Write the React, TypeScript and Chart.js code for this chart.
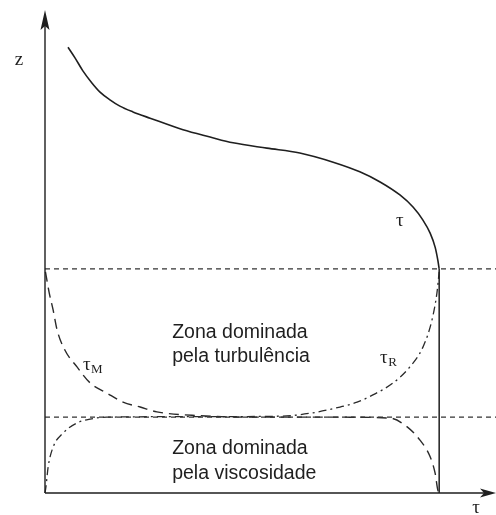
import { useEffect, useRef } from "react";
import { Chart, registerables } from "chart.js";

Chart.register(...registerables);

// Axis extents (τ horizontally, z vertically), in arbitrary units
const X_MAX = 100;
const Z_MAX = 100;
// Wall stress and the two layer boundaries
const TAU_WALL = 87.4;
const Z_VISC = 15.7;
const Z_TURB = 46.4;

// Total stress τ(z) above the turbulent zone
const tauX = [5.1, 6.65, 8.4, 10.4, 12.2, 14.4, 16.6, 19.5, 23.3, 30.6, 36.6, 41.7, 49.2, 56.5, 63.9, 69.8, 74.3, 78.7, 81.6, 83.8, 85.4, 86.5, 87.1, 87.4];
const tauZ = [92.3, 90.1, 87.4, 84.9, 83.0, 81.4, 80.1, 78.9, 77.6, 75.2, 73.7, 72.5, 71.4, 70.4, 68.5, 66.5, 64.4, 61.7, 59.2, 56.5, 53.8, 50.9, 48.2, 46.4];

// Viscous (molecular) stress τ_M
const tauMX = [0.1, 0.9, 1.8, 2.7, 4.4, 7.1, 10.0, 13.7, 17.3, 21.1, 24.8, 34.4, 45.5, 65.4, 76.5, 80.3, 83.1, 85.4, 86.5, 87.1, 87.4];
const tauMZ = [45.8, 41.6, 37.9, 33.7, 29.6, 26.1, 22.8, 20.7, 18.8, 17.8, 16.8, 16.0, 15.7, 15.7, 15.5, 13.7, 11.0, 7.5, 4.1, 0.6, 0];

// Turbulent (Reynolds) stress τ_R
const tauRX = [0, 0.2, 0.7, 1.8, 4.0, 7.1, 10.0, 13.7, 29.9, 51.9, 59.4, 65.4, 69.2, 72.7, 77.2, 80.9, 83.8, 85.8, 86.9, 87.4];
const tauRZ = [0, 1.2, 5.4, 9.5, 12.4, 14.5, 15.3, 15.7, 15.8, 15.9, 16.6, 17.8, 18.8, 20.3, 22.8, 26.1, 30.2, 35.8, 41.4, 45.8];

// Zone captions
const turbulentZoneLines = ["Zona dominada", "pela turbulência"];
const viscousZoneLines = ["Zona dominada", "pela viscosidade"];

const zip = (xs: number[], ys: number[]) => xs.map((x, i) => ({ x, y: ys[i] }));

const INK = "#1f1f1f";
const SERIF = "'Liberation Serif', 'DejaVu Serif', serif";
const SANS = "'Liberation Sans', Arial, sans-serif";

const overlay = {
  id: "stressOverlay",
  afterDatasetsDraw(chart: any) {
    const { ctx, chartArea, scales } = chart;
    const xs = scales.x;
    const ys = scales.y;
    const px = (v: number) => xs.getPixelForValue(v);
    const py = (v: number) => ys.getPixelForValue(v);
    const { left, right, top, bottom } = chartArea;

    ctx.save();
    // axes
    ctx.strokeStyle = INK;
    ctx.fillStyle = INK;
    ctx.lineWidth = 1.4;
    ctx.beginPath();
    ctx.moveTo(left, bottom);
    ctx.lineTo(left, top + 12);
    ctx.moveTo(left, bottom);
    ctx.lineTo(right - 10, bottom);
    ctx.stroke();

    // arrowheads
    ctx.beginPath();
    ctx.moveTo(left, top);
    ctx.lineTo(left - 4.5, top + 20);
    ctx.lineTo(left, top + 16);
    ctx.lineTo(left + 4.5, top + 20);
    ctx.closePath();
    ctx.fill();
    ctx.beginPath();
    ctx.moveTo(right, bottom);
    ctx.lineTo(right - 16, bottom - 4.5);
    ctx.lineTo(right - 12, bottom);
    ctx.lineTo(right - 16, bottom + 4.5);
    ctx.closePath();
    ctx.fill();

    // axis names
    ctx.font = `19px ${SERIF}`;
    ctx.textAlign = "center";
    ctx.textBaseline = "alphabetic";
    ctx.fillText("z", left - 26, top + 55);
    ctx.fillText("τ", right - 20, bottom + 20);

    // curve labels
    ctx.fillText("τ", px(78.7), py(55.3));

    const subscripted = (sym: string, sub: string, x: number, z: number) => {
      ctx.textAlign = "left";
      ctx.font = `19px ${SERIF}`;
      const w = ctx.measureText(sym).width;
      const x0 = px(x);
      const y0 = py(z);
      ctx.fillText(sym, x0, y0);
      ctx.font = `13px ${SERIF}`;
      ctx.fillText(sub, x0 + w + 0.5, y0 + 3);
    };
    subscripted("τ", "M", 8.4, 25.5);
    subscripted("τ", "R", 74.3, 26.9);

    // zone captions
    ctx.font = `19.5px ${SANS}`;
    ctx.textAlign = "left";
    ctx.fillText(turbulentZoneLines[0], px(28.2), py(32.1));
    ctx.fillText(turbulentZoneLines[1], px(28.2), py(27.1));
    ctx.fillText(viscousZoneLines[0], px(28.2), py(8.1));
    ctx.fillText(viscousZoneLines[1], px(28.2), py(2.9));
    ctx.restore();
  },
};

export default function App() {
  const canvasRef = useRef<HTMLCanvasElement | null>(null);

  useEffect(() => {
    if (!canvasRef.current) return;
    const base = { showLine: true, pointRadius: 0, pointHoverRadius: 0, clip: false as any, fill: false };
    const smooth = { cubicInterpolationMode: "monotone" as const };
    const chart = new Chart(canvasRef.current, {
      type: "scatter",
      data: {
        datasets: [
          {
            ...base,
            label: "z = δv",
            data: [{ x: 0, y: Z_VISC }, { x: X_MAX, y: Z_VISC }],
            borderColor: "#333",
            borderWidth: 1.2,
            borderDash: [5, 4],
          },
          {
            ...base,
            label: "z = h",
            data: [{ x: 0, y: Z_TURB }, { x: X_MAX, y: Z_TURB }],
            borderColor: "#333",
            borderWidth: 1.2,
            borderDash: [5, 4],
          },
          {
            ...base,
            ...smooth,
            label: "τ",
            data: zip(tauX, tauZ),
            borderColor: INK,
            borderWidth: 1.6,
          },
          {
            ...base,
            label: "τ0",
            data: [{ x: TAU_WALL, y: Z_TURB }, { x: TAU_WALL, y: 0 }],
            borderColor: INK,
            borderWidth: 1.5,
          },
          {
            ...base,
            ...smooth,
            label: "τM",
            data: zip(tauMX, tauMZ),
            borderColor: "#2a2a2a",
            borderWidth: 1.4,
            borderDash: [10, 6],
          },
          {
            ...base,
            ...smooth,
            label: "τR",
            data: zip(tauRX, tauRZ),
            borderColor: "#2a2a2a",
            borderWidth: 1.3,
            borderDash: [8, 4, 2, 4],
          },
        ],
      },
      options: {
        animation: false,
        responsive: true,
        maintainAspectRatio: false,
        layout: { padding: { left: 45, right: 0, top: 10, bottom: 22 } },
        scales: {
          x: { type: "linear", min: 0, max: X_MAX, display: false },
          y: { type: "linear", min: 0, max: Z_MAX, display: false },
        },
        plugins: {
          legend: { display: false },
          tooltip: { enabled: false },
        },
        events: [],
      },
      plugins: [overlay],
    });
    return () => chart.destroy();
  }, []);

  return (
    <div style={{ position: "fixed", left: 0, top: 0, width: 496, height: 515, background: "#fff" }}>
      <canvas ref={canvasRef} />
    </div>
  );
}
